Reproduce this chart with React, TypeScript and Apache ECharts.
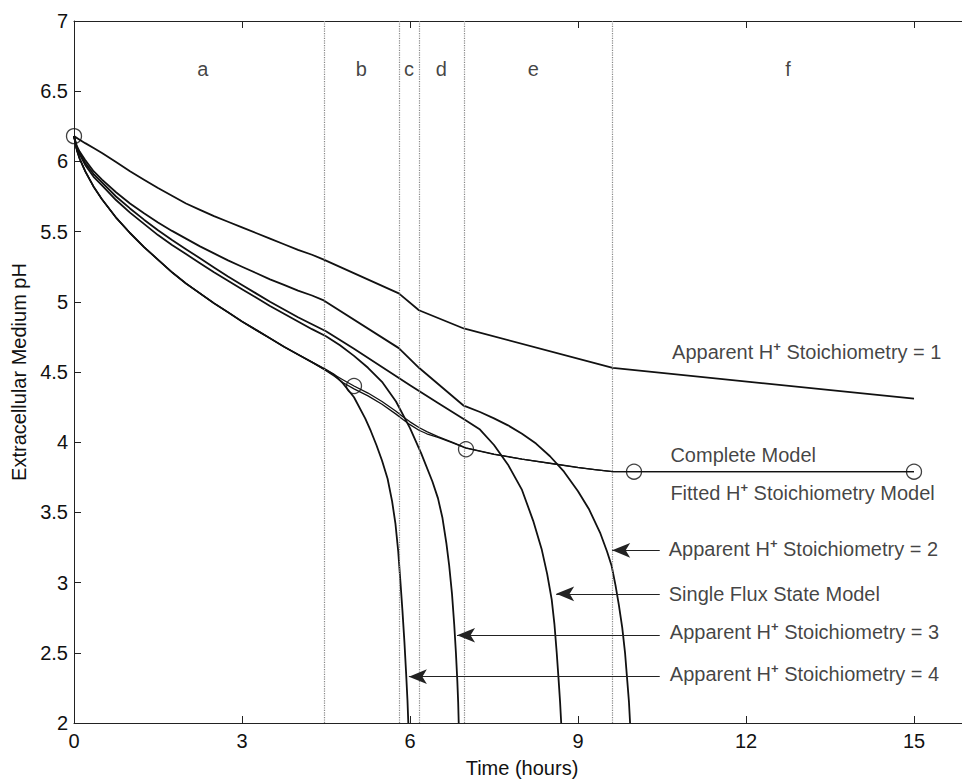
import { useEffect, useRef } from "react";
import * as echarts from "echarts";

// Model curves: [time (hours), extracellular pH]
const stoich1: [number, number][] = [
  [0, 6.18], [0.1, 6.155], [0.2, 6.13], [0.35, 6.095], [0.5, 6.06], [0.75, 5.995],
  [1, 5.93], [1.25, 5.87], [1.5, 5.81], [1.75, 5.755], [2, 5.7], [2.25, 5.655],
  [2.5, 5.61], [2.75, 5.57], [3, 5.53], [3.25, 5.49], [3.5, 5.45], [3.75, 5.41],
  [4, 5.37], [4.25, 5.335], [4.46, 5.3], [5.8, 5.06], [6.16, 4.94], [6.96, 4.81],
  [9.62, 4.53], [15, 4.31],
];

const stoich2: [number, number][] = [
  [0, 6.18], [0.05, 6.11], [0.1, 6.07], [0.2, 6.01], [0.35, 5.93], [0.5, 5.87],
  [0.75, 5.78], [1, 5.7], [1.25, 5.63], [1.5, 5.565], [1.75, 5.505], [2, 5.45],
  [2.25, 5.395], [2.5, 5.345], [2.75, 5.295], [3, 5.25], [3.25, 5.205], [3.5, 5.16],
  [3.75, 5.12], [4, 5.08], [4.25, 5.045], [4.46, 5.01], [5.8, 4.67], [6.16, 4.53],
  [6.96, 4.26], [7.25, 4.215], [7.5, 4.17], [7.75, 4.12], [8, 4.06], [8.25, 3.99],
  [8.5, 3.9], [8.75, 3.79], [9, 3.65], [9.2, 3.52], [9.4, 3.35], [9.52, 3.22],
  [9.6, 3.12], [9.67, 2.98], [9.73, 2.84], [9.79, 2.68], [9.84, 2.5], [9.88, 2.3],
  [9.91, 2.15], [9.93, 2.0],
];

const singleFlux: [number, number][] = [
  [0, 6.18], [0.05, 6.1], [0.1, 6.06], [0.2, 5.99], [0.35, 5.91], [0.5, 5.85],
  [0.75, 5.75], [1, 5.665], [1.25, 5.585], [1.5, 5.51], [1.75, 5.44], [2, 5.375],
  [2.25, 5.31], [2.5, 5.245], [2.75, 5.18], [3, 5.12], [3.25, 5.06], [3.5, 5.0],
  [3.75, 4.945], [4, 4.89], [4.25, 4.84], [4.5, 4.79], [5, 4.665], [5.5, 4.535],
  [6, 4.405], [6.5, 4.28], [7, 4.155], [7.25, 4.09], [7.5, 3.98], [7.75, 3.84],
  [8, 3.66], [8.2, 3.44], [8.35, 3.24], [8.45, 3.06], [8.53, 2.88], [8.58, 2.7],
  [8.62, 2.5], [8.65, 2.33], [8.68, 2.15], [8.7, 2.0],
];

const stoich3: [number, number][] = [
  [0, 6.18], [0.05, 6.09], [0.1, 6.05], [0.2, 5.975], [0.35, 5.89], [0.5, 5.83],
  [0.75, 5.725], [1, 5.635], [1.25, 5.555], [1.5, 5.475], [1.75, 5.405], [2, 5.34],
  [2.25, 5.275], [2.5, 5.21], [2.75, 5.15], [3, 5.09], [3.25, 5.03], [3.5, 4.97],
  [3.75, 4.915], [4, 4.86], [4.25, 4.805], [4.5, 4.755], [4.75, 4.69], [5, 4.615],
  [5.25, 4.53], [5.5, 4.43], [5.75, 4.29], [6, 4.1], [6.2, 3.92], [6.4, 3.72],
  [6.5, 3.6], [6.58, 3.46], [6.65, 3.28], [6.7, 3.12], [6.75, 2.92], [6.79, 2.7],
  [6.82, 2.5], [6.845, 2.3], [6.86, 2.15], [6.87, 2.0],
];

const stoich4: [number, number][] = [
  [0, 6.18], [0.05, 6.08], [0.1, 6.02], [0.2, 5.93], [0.35, 5.82], [0.5, 5.73],
  [0.75, 5.6], [1, 5.49], [1.25, 5.39], [1.5, 5.3], [1.75, 5.21], [2, 5.13],
  [2.25, 5.06], [2.5, 4.99], [2.75, 4.925], [3, 4.86], [3.25, 4.8], [3.5, 4.74],
  [3.75, 4.68], [4, 4.625], [4.25, 4.57], [4.5, 4.515], [4.65, 4.48], [4.8, 4.42],
  [5, 4.32], [5.2, 4.17], [5.3, 4.08], [5.4, 3.98], [5.5, 3.87], [5.6, 3.74],
  [5.68, 3.58], [5.74, 3.42], [5.79, 3.22], [5.83, 3.0], [5.865, 2.8], [5.9, 2.58],
  [5.93, 2.36], [5.955, 2.16], [5.97, 2.0],
];

const completeModel: [number, number][] = [
  [0, 6.18], [0.05, 6.08], [0.1, 6.02], [0.2, 5.93], [0.35, 5.82], [0.5, 5.73],
  [0.75, 5.6], [1, 5.49], [1.25, 5.39], [1.5, 5.3], [1.75, 5.21], [2, 5.13],
  [2.25, 5.06], [2.5, 4.99], [2.75, 4.925], [3, 4.86], [3.25, 4.8], [3.5, 4.74],
  [3.75, 4.68], [4, 4.625], [4.25, 4.57], [4.5, 4.515], [4.65, 4.48], [4.8, 4.445],
  [5, 4.4], [5.25, 4.35], [5.5, 4.29], [5.75, 4.22], [5.88, 4.18], [6, 4.145],
  [6.16, 4.105], [6.3, 4.075], [6.5, 4.04], [6.75, 4.0], [7, 3.96], [7.5, 3.915],
  [8, 3.88], [8.5, 3.85], [9, 3.82], [9.3, 3.805], [9.62, 3.79], [15, 3.79],
];

const fittedModel: [number, number][] = [
  [0, 6.18], [0.05, 6.08], [0.1, 6.02], [0.2, 5.93], [0.35, 5.82], [0.5, 5.73],
  [0.75, 5.6], [1, 5.49], [1.25, 5.39], [1.5, 5.3], [1.75, 5.21], [2, 5.13],
  [2.25, 5.06], [2.5, 4.99], [2.75, 4.925], [3, 4.86], [3.25, 4.8], [3.5, 4.74],
  [3.75, 4.68], [4, 4.625], [4.25, 4.57], [4.5, 4.51], [4.65, 4.47], [4.8, 4.425],
  [5, 4.38], [5.25, 4.33], [5.5, 4.27], [5.75, 4.2], [5.88, 4.16], [6, 4.125],
  [6.16, 4.085], [6.3, 4.06], [6.5, 4.035], [6.75, 3.997], [7, 3.958], [7.5, 3.914],
  [8, 3.879], [8.5, 3.849], [9, 3.819], [9.3, 3.804], [9.62, 3.79], [15, 3.79],
];

// Measured pH values
const obsTime = [0, 5, 7, 10, 15];
const obsPH = [6.18, 4.4, 3.95, 3.79, 3.79];

// Phase boundaries and phase names
const phaseBounds = [4.46, 5.8, 6.16, 6.96, 9.62];
const phaseNames = ["a", "b", "c", "d", "e", "f"];
const phaseLabelX = [2.3, 5.13, 5.98, 6.56, 8.2, 12.75];
const phaseLabelY = 6.66;

// Tick values
const xTicks = [0, 3, 6, 9, 12, 15];

// Curve annotations (text anchored at its left edge) with optional arrows
const annotations = [
  { text: "Apparent H+ Stoichiometry = 1", x: 10.68, y: 4.645 },
  { text: "Complete Model", x: 10.65, y: 3.91 },
  { text: "Fitted H+ Stoichiometry Model", x: 10.65, y: 3.64 },
  { text: "Apparent H+ Stoichiometry = 2", x: 10.62, y: 3.24, arrowFrom: 10.46, arrowTo: 9.61, arrowY: 3.23 },
  { text: "Single Flux State Model", x: 10.62, y: 2.92, arrowFrom: 10.46, arrowTo: 8.61, arrowY: 2.92 },
  { text: "Apparent H+ Stoichiometry = 3", x: 10.64, y: 2.65, arrowFrom: 10.46, arrowTo: 6.84, arrowY: 2.625 },
  { text: "Apparent H+ Stoichiometry = 4", x: 10.64, y: 2.35, arrowFrom: 10.46, arrowTo: 5.98, arrowY: 2.33 },
];

const FONT = "'Liberation Sans', Arial, Helvetica, sans-serif";
const INK = "#111";

function richText(s: string): string {
  const parts = s.split("H+");
  if (parts.length === 1) return `{n|${s}}`;
  return parts.map((p) => `{n|${p}}`).join("{n|H}{s|+}");
}

export default function App() {
  const ref = useRef<HTMLDivElement>(null);

  useEffect(() => {
    if (!ref.current) return;
    const chart = echarts.init(ref.current, undefined, { renderer: "svg" });

    const curveSeries = (data: [number, number][], width = 1.8) => ({
      type: "line",
      data,
      showSymbol: false,
      silent: true,
      lineStyle: { color: INK, width, join: "round" },
      z: 3,
    });

    const axisLine = { show: true, onZero: false, lineStyle: { color: "#222", width: 1 } };

    const option = {
      animation: false,
      backgroundColor: "#ffffff",
      textStyle: { fontFamily: FONT },
      grid: { left: 74, right: 10, top: 21, bottom: 53 },
      xAxis: [
        {
          type: "value",
          min: 0,
          max: 16,
          interval: 3,
          position: "bottom",
          name: "Time (hours)",
          nameLocation: "middle",
          nameGap: 35,
          nameTextStyle: { fontSize: 20, color: INK, fontFamily: FONT },
          axisLine,
          axisTick: { show: true, inside: true, length: 7, customValues: xTicks, lineStyle: { color: "#222" } },
          axisLabel: { customValues: xTicks, fontSize: 20, color: INK, margin: 8, fontFamily: FONT },
          splitLine: { show: false },
        },
        {
          type: "value",
          min: 0,
          max: 16,
          interval: 3,
          position: "top",
          axisLine,
          axisTick: { show: true, inside: true, length: 7, customValues: xTicks, lineStyle: { color: "#222" } },
          axisLabel: { show: false },
          splitLine: { show: false },
        },
      ],
      yAxis: [
        {
          type: "value",
          min: 2,
          max: 7,
          interval: 0.5,
          position: "left",
          name: "Extracellular Medium pH",
          nameLocation: "middle",
          nameRotate: 90,
          nameGap: 43,
          nameTextStyle: { fontSize: 20, color: INK, fontFamily: FONT },
          axisLine,
          axisTick: { show: true, inside: true, length: 7, lineStyle: { color: "#222" } },
          axisLabel: { fontSize: 20, color: INK, margin: 6, fontFamily: FONT },
          splitLine: { show: false },
        },
        {
          type: "value",
          min: 2,
          max: 7,
          interval: 0.5,
          position: "right",
          axisLine,
          axisTick: { show: true, inside: true, length: 7, lineStyle: { color: "#222" } },
          axisLabel: { show: false },
          splitLine: { show: false },
        },
      ],
      series: [
        curveSeries(stoich1),
        curveSeries(stoich2),
        curveSeries(singleFlux),
        curveSeries(stoich3),
        curveSeries(stoich4),
        curveSeries(completeModel, 1.3),
        curveSeries(fittedModel, 1.3),
        {
          type: "scatter",
          data: obsTime.map((t, i) => [t, obsPH[i]]),
          symbol: "circle",
          symbolSize: 15,
          silent: true,
          itemStyle: { color: "rgba(0,0,0,0)", borderColor: INK, borderWidth: 1.3 },
          z: 5,
        },
        {
          type: "scatter",
          data: phaseLabelX.map((x, i) => ({ value: [x, phaseLabelY], name: phaseNames[i] })),
          symbolSize: 0,
          silent: true,
          label: {
            show: true,
            position: "inside",
            formatter: (p: any) => p.name,
            fontSize: 20,
            color: INK,
            fontFamily: FONT,
          },
          markLine: {
            silent: true,
            symbol: ["none", "none"],
            label: { show: false },
            lineStyle: { type: "dotted", color: "#888", width: 1.2 },
            data: phaseBounds.map((v) => ({ xAxis: v })),
          },
          z: 2,
        },
        {
          type: "scatter",
          data: annotations.map((a) => ({ value: [a.x, a.y], name: a.text })),
          symbolSize: 0,
          silent: true,
          label: {
            show: true,
            position: "inside",
            align: "left",
            verticalAlign: "middle",
            formatter: (p: any) => richText(p.name),
            rich: {
              n: { fontSize: 20, color: INK, fontFamily: FONT, lineHeight: 24 },
              s: { fontSize: 13, color: INK, fontFamily: FONT, lineHeight: 13, verticalAlign: "top", fontWeight: "bold" },
            },
          },
          markLine: {
            silent: true,
            symbol: ["none", "arrow"],
            symbolSize: [11, 18],
            label: { show: false },
            lineStyle: { type: "solid", color: "#222", width: 1 },
            data: annotations
              .filter((a) => a.arrowTo !== undefined)
              .map((a) => [
                { coord: [a.arrowFrom, a.arrowY] },
                { coord: [a.arrowTo, a.arrowY] },
              ]),
          },
          z: 6,
        },
      ],
    };

    chart.setOption(option as any);
    return () => chart.dispose();
  }, []);

  return (
    <div
      style={{
        position: "fixed",
        left: 0,
        top: 0,
        width: 962,
        height: 783,
        overflow: "hidden",
        background: "#fff",
      }}
    >
      <div ref={ref} style={{ width: 980, height: 783 }} />
    </div>
  );
}
